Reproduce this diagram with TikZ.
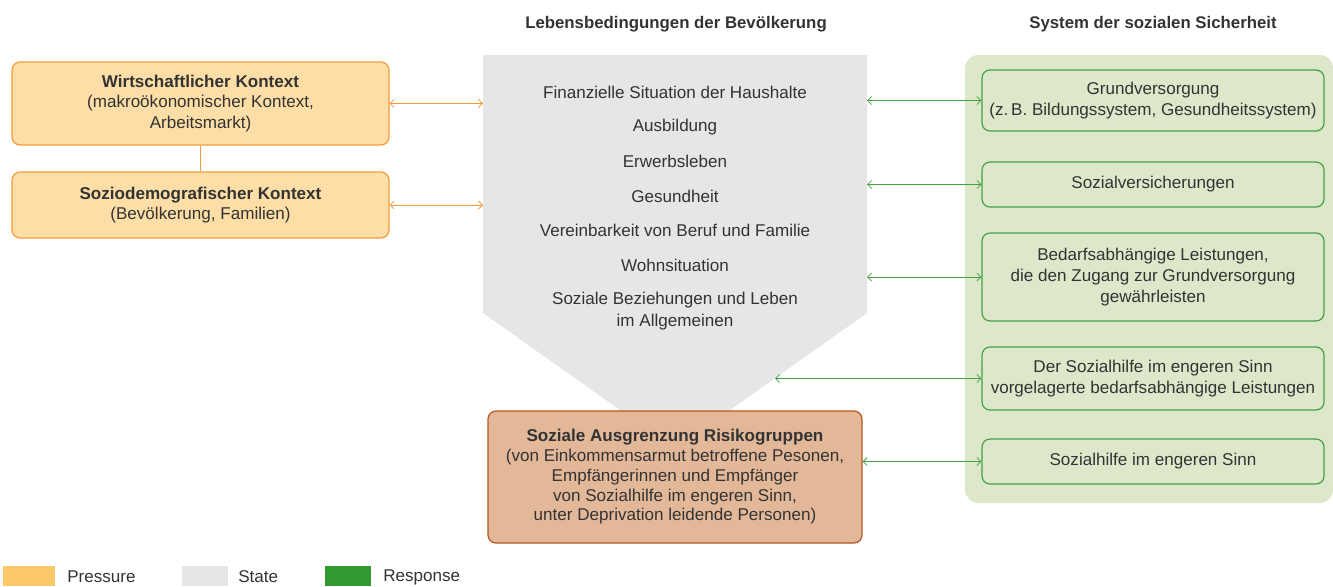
\documentclass[tikz,border=0pt]{standalone}
\usepackage{fontspec}
\setmainfont{Liberation Sans}
\usetikzlibrary{arrows.meta}
\definecolor{txt}{HTML}{333333}
\definecolor{plight}{HTML}{FDDEA6}
\definecolor{pline}{HTML}{F39C3B}
\definecolor{pswatch}{HTML}{FDC86A}
\definecolor{sgrey}{HTML}{E6E6E6}
\definecolor{rlight}{HTML}{DDE8CA}
\definecolor{rline}{HTML}{45A045}
\definecolor{rswatch}{HTML}{339933}
\definecolor{blight}{HTML}{E3B899}
\definecolor{bline}{HTML}{B5561D}
\tikzset{
  twoway/.style={{Straight Barb[length=3pt,width=6pt]}-{Straight Barb[length=3pt,width=6pt]},line width=0.6pt},
  pbox/.style={draw=pline,fill=plight,line width=0.9pt,rounded corners=6pt,align=center,minimum width=282.75pt},
  rbox/.style={draw=rline,fill=rlight,line width=0.9pt,rounded corners=6pt,align=center,minimum width=256.5pt},
  swatch/.style={minimum width=34.5pt,minimum height=15pt,inner sep=0pt}
}
\begin{document}
\begin{tikzpicture}[x=0.75pt,y=-0.75pt,font=\fontsize{12.8}{15.5}\selectfont,text=txt]
\useasboundingbox (0,0) rectangle (1333,586);
% headers
\node[font=\fontsize{12.6}{15}\selectfont\bfseries] (hs) at (676,24) {Lebensbedingungen der Bevölkerung};
\node[font=\fontsize{12.6}{15}\selectfont\bfseries] (hr) at (1153,24) {System der sozialen Sicherheit};
% state shape
\fill[sgrey] (483,55)--(867,55)--(867,313)--(675,449)--(483,313)--cycle;
\path (483,0) coordinate (sL) (867,0) coordinate (sR) (775,0) coordinate (sM);
\foreach \y/\t [count=\i] in {92/Finanzielle Situation der Haushalte,127/Ausbildung,161/Erwerbsleben,196/Gesundheit,230/Vereinbarkeit von Beruf und Familie,265/Wohnsituation,311/{Soziale Beziehungen und Leben\\im Allgemeinen}}
  \node[align=center,font=\fontsize{12.8}{16.5}\selectfont] (s\i) at (675,\y) {\t};
% response panel
\fill[rlight,rounded corners=10pt] (965,55) rectangle (1333,503);
\node[rbox,minimum height=45.75pt] (g1) at (1153,100.5) {Grundversorgung\\(z.\,B. Bildungssystem, Gesundheitssystem)};
\node[rbox,minimum height=33.75pt] (g2) at (1153,184.5) {Sozialversicherungen};
\node[rbox,minimum height=66pt] (g3) at (1153,277) {Bedarfsabhängige Leistungen,\\die den Zugang zur Grundversorgung\\gewährleisten};
\node[rbox,minimum height=47.25pt] (g4) at (1153,378.5) {Der Sozialhilfe im engeren Sinn\\vorgelagerte bedarfsabhängige Leistungen};
\node[rbox,minimum height=33.75pt] (g5) at (1153,461.5) {Sozialhilfe im engeren Sinn};
% pressure
\node[pbox,minimum height=62.25pt] (wk) at (200.5,103.5) {\textbf{Wirtschaftlicher Kontext}\\(makroökonomischer Kontext,\\Arbeitsmarkt)};
\node[pbox,minimum height=49.5pt] (sd) at (200.5,205) {\textbf{Soziodemografischer Kontext}\\(Bevölkerung, Familien)};
\draw[pline,line width=0.9pt] (wk.south)--(sd.north);
% risk groups
\node[draw=bline,fill=blight,line width=0.9pt,rounded corners=6pt,align=center,minimum width=280.5pt,minimum height=99pt,font=\fontsize{12.8}{14.8}\selectfont] (ar) at (675,477)
  {\textbf{Soziale Ausgrenzung Risikogruppen}\\(von Einkommensarmut betroffene Pesonen,\\Empfängerinnen und Empfänger\\von Sozialhilfe im engeren Sinn,\\unter Deprivation leidende Personen)};
% connectors
\draw[twoway,pline] (wk.east)--(wk.east -| sL);
\draw[twoway,pline] (sd.east)--(sd.east -| sL);
\draw[twoway,rline] (g1.west)--(g1.west -| sR);
\draw[twoway,rline] (g2.west)--(g2.west -| sR);
\draw[twoway,rline] (g3.west)--(g3.west -| sR);
\draw[twoway,rline] (g4.west)--(g4.west -| sM);
\draw[twoway,rline] (g5.west)--(g5.west -| ar.east);
% legend
\node[swatch,fill=pswatch,minimum width=39pt] (lp) at (29,576) {};
\node[swatch,fill=sgrey] (ls) at (205,576) {};
\node[swatch,fill=rswatch] (lr) at (348,576) {};
\node[anchor=west,inner sep=0pt] (tp) at (67,577) {Pressure};
\node[anchor=west,inner sep=0pt] (ts) at (238,577) {State};
\node[anchor=west,inner sep=0pt] (tr) at (383,577) {Response};
\end{tikzpicture}
\end{document}
